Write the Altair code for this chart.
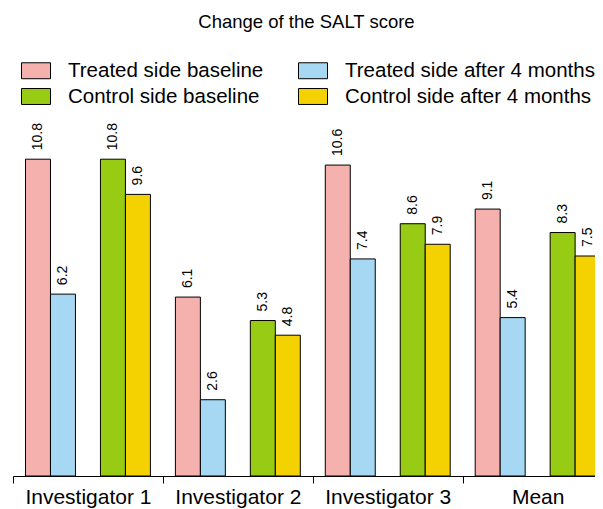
import altair as alt
import pandas as pd

groups = ["Investigator 1", "Investigator 2", "Investigator 3", "Mean"]
series = ["Treated side baseline", "Treated side after 4 months",
          "Control side baseline", "Control side after 4 months"]
treated_baseline = [10.8, 6.1, 10.6, 9.1]
treated_after = [6.2, 2.6, 7.4, 5.4]
control_baseline = [10.8, 5.3, 8.6, 8.3]
control_after = [9.6, 4.8, 7.9, 7.5]
colors = ["#F4B1AE", "#A6D7F3", "#97CB14", "#F4D100"]
slots = [series[0], series[1], " ", series[2], series[3]]

rows = []
for vals, s in zip([treated_baseline, treated_after, control_baseline, control_after], series):
    for g, v in zip(groups, vals):
        rows.append({"group": g, "series": s, "value": v})
df = pd.DataFrame(rows)

FONT = "Liberation Sans"

x_enc = alt.X("group:N", sort=groups,
              scale=alt.Scale(range=[0, 599.6], paddingInner=0, paddingOuter=0),
              axis=alt.Axis(title=None, labelAngle=0, labelFontSize=21, labelFont=FONT,
                            labelColor="black", domainColor="black", tickColor="black",
                            tickSize=7, tickBand="extent", labelPadding=3, grid=False))
xo_enc = alt.XOffset("series:N", scale=alt.Scale(domain=slots, paddingInner=0, paddingOuter=0.5))
y_enc = alt.Y("value:Q", scale=alt.Scale(domain=[0, 12], nice=False), axis=None)

bars = alt.Chart(df).mark_bar(stroke="black", strokeWidth=1).encode(
    x=x_enc, xOffset=xo_enc, y=y_enc,
    color=alt.Color("series:N", scale=alt.Scale(domain=series, range=colors),
                    legend=alt.Legend(orient="none", legendX=8, legendY=-68.5, columns=2,
                                      direction="horizontal", title=None,
                                      symbolType="M-1,-0.55H1V0.55H-1Z", symbolSize=841,
                                      symbolStrokeColor="black", symbolStrokeWidth=1,
                                      symbolOpacity=1, labelFontSize=20.5, labelFont=FONT,
                                      labelColor="black", labelOffset=17, columnPadding=32,
                                      rowPadding=0, labelLimit=0)),
)

labels = alt.Chart(df).mark_text(angle=270, align="left", baseline="middle", dx=9,
                                 fontSize=14, font=FONT, color="black").encode(
    x=x_enc, xOffset=xo_enc, y=y_enc,
    text=alt.Text("value:Q", format=".1f"),
)

chart = alt.layer(bars, labels).properties(
    width=582, height=352,
    title=alt.TitleParams("Change of the SALT score", fontSize=18.5, font=FONT,
                          fontWeight="normal", color="black", anchor="middle",
                          offset=24, dx=2.5),
    autosize=alt.AutoSizeParams(type="none"),
    padding={"left": 5, "top": 116, "right": 0, "bottom": 33},
).configure_view(stroke=None)

chart.save("out.html", embed_options={"renderer": "svg", "actions": False})
